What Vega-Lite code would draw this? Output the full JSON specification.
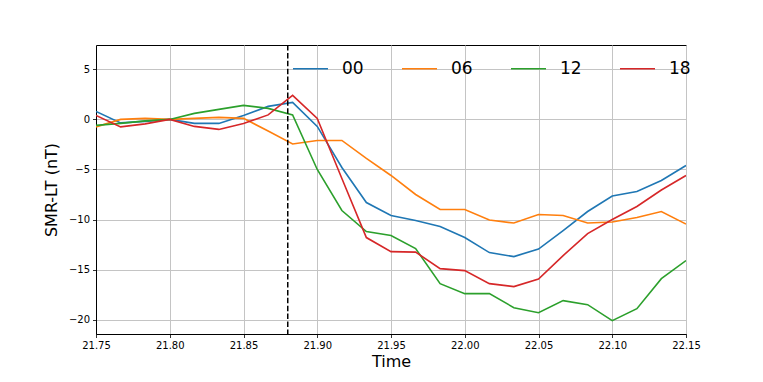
{
  "$schema": "https://vega.github.io/schema/vega-lite/v6.json",
  "width": 590,
  "height": 289,
  "autosize": {"type": "none"},
  "padding": {"left": 96, "top": 45, "right": 77, "bottom": 48},
  "background": "white",
  "config": {
    "font": "DejaVu Sans",
    "view": {"stroke": "black", "strokeWidth": 1},
    "axis": {
      "domainColor": "black",
      "tickColor": "black",
      "tickSize": 3.5,
      "tickWidth": 0.8,
      "labelColor": "black",
      "labelFontSize": 10,
      "labelFont": "DejaVu Sans",
      "titleFont": "DejaVu Sans",
      "titleFontSize": 16,
      "titleFontWeight": "normal",
      "titleColor": "black",
      "gridColor": "#c4c4c4",
      "gridWidth": 1
    }
  },
  "datasets": {
    "smr": [
      {"t": 21.75, "s": "00", "v": 0.8}, {"t": 21.7667, "s": "00", "v": -0.35}, {"t": 21.7833, "s": "00", "v": -0.2}, {"t": 21.8, "s": "00", "v": 0},
      {"t": 21.8167, "s": "00", "v": -0.4}, {"t": 21.8333, "s": "00", "v": -0.4}, {"t": 21.85, "s": "00", "v": 0.4}, {"t": 21.8667, "s": "00", "v": 1.3},
      {"t": 21.8833, "s": "00", "v": 1.7}, {"t": 21.9, "s": "00", "v": -0.7}, {"t": 21.9167, "s": "00", "v": -4.8}, {"t": 21.9333, "s": "00", "v": -8.3},
      {"t": 21.95, "s": "00", "v": -9.6}, {"t": 21.9667, "s": "00", "v": -10.1}, {"t": 21.9833, "s": "00", "v": -10.7}, {"t": 22.0, "s": "00", "v": -11.8},
      {"t": 22.0167, "s": "00", "v": -13.3}, {"t": 22.0333, "s": "00", "v": -13.7}, {"t": 22.05, "s": "00", "v": -12.95}, {"t": 22.0667, "s": "00", "v": -11.1},
      {"t": 22.0833, "s": "00", "v": -9.2}, {"t": 22.1, "s": "00", "v": -7.65}, {"t": 22.1167, "s": "00", "v": -7.2}, {"t": 22.1333, "s": "00", "v": -6.1},
      {"t": 22.15, "s": "00", "v": -4.6},

      {"t": 21.75, "s": "06", "v": -0.75}, {"t": 21.7667, "s": "06", "v": 0}, {"t": 21.7833, "s": "06", "v": 0.1}, {"t": 21.8, "s": "06", "v": 0},
      {"t": 21.8167, "s": "06", "v": 0.1}, {"t": 21.8333, "s": "06", "v": 0.2}, {"t": 21.85, "s": "06", "v": 0.1}, {"t": 21.8667, "s": "06", "v": -1.15},
      {"t": 21.8833, "s": "06", "v": -2.45}, {"t": 21.9, "s": "06", "v": -2.1}, {"t": 21.9167, "s": "06", "v": -2.1}, {"t": 21.9333, "s": "06", "v": -3.9},
      {"t": 21.95, "s": "06", "v": -5.6}, {"t": 21.9667, "s": "06", "v": -7.5}, {"t": 21.9833, "s": "06", "v": -9.0}, {"t": 22.0, "s": "06", "v": -9.0},
      {"t": 22.0167, "s": "06", "v": -10.05}, {"t": 22.0333, "s": "06", "v": -10.35}, {"t": 22.05, "s": "06", "v": -9.5}, {"t": 22.0667, "s": "06", "v": -9.6},
      {"t": 22.0833, "s": "06", "v": -10.35}, {"t": 22.1, "s": "06", "v": -10.25}, {"t": 22.1167, "s": "06", "v": -9.8}, {"t": 22.1333, "s": "06", "v": -9.2},
      {"t": 22.15, "s": "06", "v": -10.45},

      {"t": 21.75, "s": "12", "v": -0.6}, {"t": 21.7667, "s": "12", "v": -0.4}, {"t": 21.7833, "s": "12", "v": -0.15}, {"t": 21.8, "s": "12", "v": 0},
      {"t": 21.8167, "s": "12", "v": 0.6}, {"t": 21.8333, "s": "12", "v": 1.0}, {"t": 21.85, "s": "12", "v": 1.4}, {"t": 21.8667, "s": "12", "v": 1.1},
      {"t": 21.8833, "s": "12", "v": 0.45}, {"t": 21.9, "s": "12", "v": -5.0}, {"t": 21.9167, "s": "12", "v": -9.1}, {"t": 21.9333, "s": "12", "v": -11.2},
      {"t": 21.95, "s": "12", "v": -11.6}, {"t": 21.9667, "s": "12", "v": -12.9}, {"t": 21.9833, "s": "12", "v": -16.4}, {"t": 22.0, "s": "12", "v": -17.4},
      {"t": 22.0167, "s": "12", "v": -17.4}, {"t": 22.0333, "s": "12", "v": -18.8}, {"t": 22.05, "s": "12", "v": -19.3}, {"t": 22.0667, "s": "12", "v": -18.1},
      {"t": 22.0833, "s": "12", "v": -18.5}, {"t": 22.1, "s": "12", "v": -20.1}, {"t": 22.1167, "s": "12", "v": -18.9}, {"t": 22.1333, "s": "12", "v": -15.9},
      {"t": 22.15, "s": "12", "v": -14.1},

      {"t": 21.75, "s": "18", "v": 0.4}, {"t": 21.7667, "s": "18", "v": -0.75}, {"t": 21.7833, "s": "18", "v": -0.45}, {"t": 21.8, "s": "18", "v": 0},
      {"t": 21.8167, "s": "18", "v": -0.7}, {"t": 21.8333, "s": "18", "v": -1.0}, {"t": 21.85, "s": "18", "v": -0.4}, {"t": 21.8667, "s": "18", "v": 0.45},
      {"t": 21.8833, "s": "18", "v": 2.4}, {"t": 21.9, "s": "18", "v": 0.1}, {"t": 21.9167, "s": "18", "v": -5.9}, {"t": 21.9333, "s": "18", "v": -11.8},
      {"t": 21.95, "s": "18", "v": -13.2}, {"t": 21.9667, "s": "18", "v": -13.25}, {"t": 21.9833, "s": "18", "v": -14.9}, {"t": 22.0, "s": "18", "v": -15.1},
      {"t": 22.0167, "s": "18", "v": -16.4}, {"t": 22.0333, "s": "18", "v": -16.7}, {"t": 22.05, "s": "18", "v": -15.95}, {"t": 22.0667, "s": "18", "v": -13.6},
      {"t": 22.0833, "s": "18", "v": -11.4}, {"t": 22.1, "s": "18", "v": -10.0}, {"t": 22.1167, "s": "18", "v": -8.7}, {"t": 22.1333, "s": "18", "v": -7.05},
      {"t": 22.15, "s": "18", "v": -5.6}
    ],
    "onset": [{"t": 21.88}]
  },
  "layer": [
    {
      "data": {"name": "smr"},
      "mark": {"type": "line", "strokeWidth": 1.6, "clip": true},
      "encoding": {
        "x": {
          "field": "t", "type": "quantitative", "title": "Time",
          "scale": {"domain": [21.75, 22.15], "nice": false, "zero": false},
          "axis": {"values": [21.75, 21.8, 21.85, 21.9, 21.95, 22.0, 22.05, 22.1, 22.15], "format": ".2f", "grid": true, "labelFlush": false, "labelOverlap": false, "labelPadding": 3, "titlePadding": 3}
        },
        "y": {
          "field": "v", "type": "quantitative", "title": "SMR-LT (nT)",
          "scale": {"domain": [-21.43, 7.43], "nice": false, "zero": false},
          "axis": {"values": [-20, -15, -10, -5, 0, 5], "grid": true, "labelFlush": false, "labelPadding": 3, "titlePadding": 9}
        },
        "color": {
          "field": "s", "type": "nominal",
          "scale": {"domain": ["00", "06", "12", "18"], "range": ["#1f77b4", "#ff7f0e", "#2ca02c", "#d62728"]},
          "legend": {
            "title": null,
            "orient": "none",
            "legendX": 196,
            "legendY": 5,
            "direction": "horizontal",
            "columns": 4,
            "padding": 0,
            "symbolType": "stroke",
            "symbolSize": 1225,
            "symbolStrokeWidth": 1.6,
            "labelFontSize": 17,
            "labelFont": "DejaVu Sans",
            "labelColor": "black",
            "labelOffset": 13,
            "columnPadding": 34
          }
        }
      }
    },
    {
      "data": {"name": "onset"},
      "mark": {"type": "rule", "color": "black", "strokeWidth": 1.5, "strokeDash": [5.5, 2.4]},
      "encoding": {"x": {"field": "t", "type": "quantitative"}}
    }
  ]
}
